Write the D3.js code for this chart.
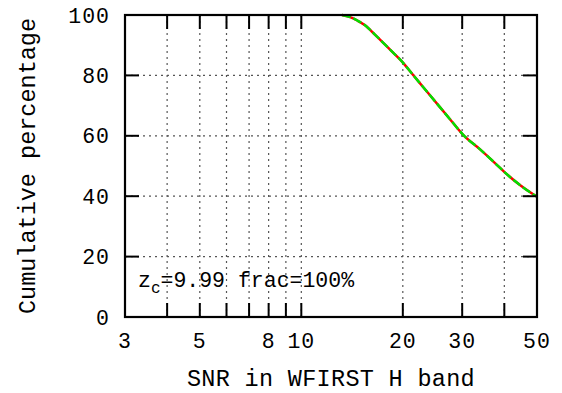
<!DOCTYPE html>
<html>
<head>
<meta charset="utf-8">
<script src="https://cdn.jsdelivr.net/npm/d3@7"></script>
<style>
  body { margin: 0; background: #fff; }
  text { font-family: "Liberation Mono", "DejaVu Sans Mono", monospace; fill: #000; }
</style>
</head>
<body>
<svg width="562" height="393"></svg>
<script>
// data
snr = [13.2, 13.9, 14.7, 15.45, 16.5, 18.3, 20.1, 21.25, 23.0, 25.8, 27.6, 30.2, 33.9, 38.0, 40.2, 44.5, 50];
cumPct = [100, 99.4, 98.1, 96.6, 93.6, 88.6, 84.0, 80.7, 76.1, 69.4, 65.5, 60.3, 55.5, 50.4, 47.8, 43.7, 39.8];

xTicks = [4, 5, 6, 7, 8, 9, 10, 20, 30, 40];
xLabels = [3, 5, 8, 10, 20, 30, 50];
yTicks = [20, 40, 60, 80];
yLabels = [0, 20, 40, 60, 80, 100];

width = 562;
height = 393;
margin = {top: 15, right: 25, bottom: 76, left: 125};
tickLen = 14;

function draw() {
  const svg = d3.select("svg");

  const x = d3.scaleLog()
      .domain([3, 50])
      .range([margin.left, width - margin.right]);
  const y = d3.scaleLinear()
      .domain([0, 100])
      .range([height - margin.bottom, margin.top]);

  const [x0, x1] = x.range();
  const [yb, yt] = y.range();

  // grid
  const grid = svg.append("g")
      .attr("stroke", "#555")
      .attr("stroke-width", 1.2)
      .attr("stroke-dasharray", "2,4");
  grid.selectAll("line.gx")
    .data(xTicks)
    .join("line")
      .attr("x1", d => x(d)).attr("x2", d => x(d))
      .attr("y1", yb).attr("y2", yt);
  grid.selectAll("line.gy")
    .data(yTicks)
    .join("line")
      .attr("class", "gy")
      .attr("y1", d => y(d)).attr("y2", d => y(d))
      .attr("x1", x0).attr("x2", x1);

  // curve: red under, green dashes over
  const line = d3.line()
      .x((d, i) => x(snr[i]))
      .y(d => y(d))
      .curve(d3.curveMonotoneX);

  svg.append("path")
      .attr("d", line(cumPct))
      .attr("fill", "none")
      .attr("stroke", "#ff0000")
      .attr("stroke-width", 2.5);
  svg.append("path")
      .attr("d", line(cumPct))
      .attr("fill", "none")
      .attr("stroke", "#00e000")
      .attr("stroke-width", 2.5)
      .attr("stroke-dasharray", "9,3");

  // ticks on all sides
  const ticks = svg.append("g")
      .attr("stroke", "#000")
      .attr("stroke-width", 2);
  xTicks.forEach(d => {
    ticks.append("line").attr("x1", x(d)).attr("x2", x(d)).attr("y1", yb).attr("y2", yb - tickLen);
    ticks.append("line").attr("x1", x(d)).attr("x2", x(d)).attr("y1", yt).attr("y2", yt + tickLen);
  });
  yTicks.forEach(d => {
    ticks.append("line").attr("y1", y(d)).attr("y2", y(d)).attr("x1", x0).attr("x2", x0 + tickLen);
    ticks.append("line").attr("y1", y(d)).attr("y2", y(d)).attr("x1", x1).attr("x2", x1 - tickLen);
  });

  // frame
  svg.append("rect")
      .attr("x", x0).attr("y", yt)
      .attr("width", x1 - x0).attr("height", yb - yt)
      .attr("fill", "none")
      .attr("stroke", "#000")
      .attr("stroke-width", 2.2);

  // tick labels
  svg.append("g")
      .attr("font-size", 21.5)
      .attr("letter-spacing", 1)
      .attr("text-anchor", "middle")
    .selectAll("text")
    .data(xLabels)
    .join("text")
      .attr("x", d => x(d))
      .attr("y", yb + 31)
      .text(d => d);

  svg.append("g")
      .attr("font-size", 21.5)
      .attr("letter-spacing", 1)
      .attr("text-anchor", "end")
    .selectAll("text")
    .data(yLabels)
    .join("text")
      .attr("x", x0 - 15)
      .attr("y", d => y(d))
      .attr("dy", "0.35em")
      .text(d => d);

  // axis titles
  svg.append("text")
      .attr("x", (x0 + x1) / 2)
      .attr("y", 386)
      .attr("text-anchor", "middle")
      .attr("font-size", 23.5)
      .attr("letter-spacing", 0.3)
      .text("SNR in WFIRST H band");

  svg.append("text")
      .attr("transform", `translate(35,${(yb + yt) / 2}) rotate(-90)`)
      .attr("text-anchor", "middle")
      .attr("font-size", 23.5)
      .text("Cumulative percentage");

  // annotation
  const note = svg.append("text")
      .attr("x", x0 + 13)
      .attr("y", y(10))
      .attr("font-size", 21.5);
  note.append("tspan").text("z");
  note.append("tspan").attr("font-size", 16).attr("dy", 6).text("c");
  note.append("tspan").attr("dy", -6).text("=9.99 frac=100%");
}

draw();
</script>
</body>
</html>
